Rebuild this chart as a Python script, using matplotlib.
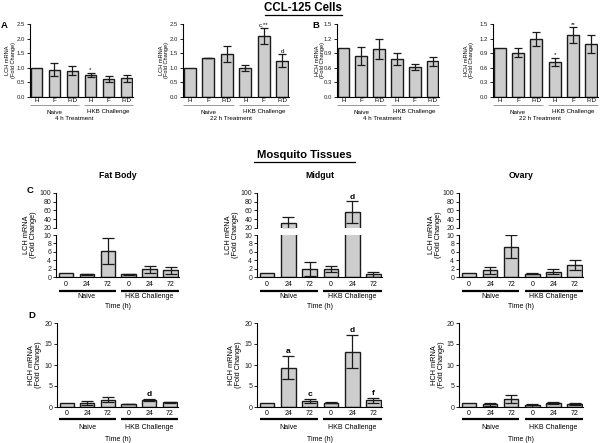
import matplotlib
matplotlib.use('Agg')
import matplotlib.pyplot as plt
from matplotlib.lines import Line2D
from matplotlib.transforms import blended_transform_factory

plt.rcParams['font.family'] = ['Liberation Sans', 'DejaVu Sans']

# ---------------- data ----------------
cell_categories = ['H', 'F', 'F/D', 'H', 'F', 'F/D']
tissue_categories = ['0', '24', '72', '0', '24', '72']
groups = ['Naive', 'HKB Challenge']

lch_4h = [1.0, 0.94, 0.90, 0.76, 0.62, 0.64]
lch_4h_err = [0, 0.23, 0.16, 0.07, 0.10, 0.11]
lch_4h_sig = ['', '', '', '*', '', '']

lch_22h = [1.0, 1.34, 1.47, 0.99, 2.08, 1.24]
lch_22h_err = [0, 0.01, 0.26, 0.11, 0.28, 0.22]
lch_22h_sig = ['', '', '', '', 'c,**', 'd']

hch_4h = [1.0, 0.84, 0.99, 0.78, 0.61, 0.73]
hch_4h_err = [0, 0.18, 0.20, 0.12, 0.06, 0.09]
hch_4h_sig = ['', '', '', '', '', '']

hch_22h = [1.0, 0.91, 1.19, 0.72, 1.27, 1.09]
hch_22h_err = [0, 0.09, 0.15, 0.09, 0.16, 0.19]
hch_22h_sig = ['', '', '', '*', '**', '']

fat_lch = [1.0, 0.6, 6.2, 0.6, 1.8, 1.6]
fat_lch_err = [0, 0.15, 3.2, 0.1, 0.9, 0.85]
fat_lch_sig = ['', '', '', '', '', '']

mid_lch = [1.0, 31, 1.9, 2.0, 56, 0.7]
mid_lch_err = [0, 13, 1.6, 0.7, 25, 0.6]
mid_lch_sig = ['', '', '', '', 'd', '']

ova_lch = [1.0, 1.6, 7.2, 0.8, 1.3, 2.8]
ova_lch_err = [0, 0.8, 2.75, 0.2, 0.5, 1.25]
ova_lch_sig = ['', '', '', '', '', '']

fat_hch = [1.0, 0.95, 1.75, 0.7, 1.65, 1.15]
fat_hch_err = [0, 0.55, 0.55, 0.1, 0.3, 0.15]
fat_hch_sig = ['', '', '', '', 'd', '']

mid_hch = [1.0, 9.4, 1.5, 1.0, 13.2, 1.6]
mid_hch_err = [0, 2.8, 0.45, 0.15, 4.0, 0.6]
mid_hch_sig = ['', 'a', 'c', '', 'd', 'f']

ova_hch = [1.0, 0.6, 1.9, 0.4, 0.95, 0.8]
ova_hch_err = [0, 0.4, 0.85, 0.3, 0.35, 0.25]
ova_hch_sig = ['', '', '', '', '', '']

# ---------------- layout helpers ----------------
W, H = 601, 443
fig = plt.figure(figsize=(6.01, 4.43), dpi=100)


def fx(px):
    return px / W


def fy(py):
    return 1 - py / H


BAR_FC = '#cdcdcd'
EDGE = '#1a1a1a'


def style_axis(ax, fs, bottom=True):
    for s in ['top', 'right']:
        ax.spines[s].set_visible(False)
    ax.spines['left'].set_linewidth(0.8)
    ax.spines['bottom'].set_linewidth(0.8)
    if not bottom:
        ax.spines['bottom'].set_visible(False)
    ax.tick_params(axis='y', direction='out', length=2, width=0.7,
                   labelsize=fs, pad=1.5, colors='#222222')
    ax.tick_params(axis='x', length=0, labelbottom=False)


def draw_bars(ax, vals, errs, width, capsize, sig=None, sigfs=5, sigbold=False):
    x = list(range(len(vals)))
    ax.bar(x, vals, width=width, color=BAR_FC, edgecolor=EDGE, linewidth=1.0, zorder=2)
    ex = [i for i in x if errs[i] > 0]
    ax.errorbar(ex, [vals[i] for i in ex], yerr=[errs[i] for i in ex], fmt='none',
                ecolor=EDGE, elinewidth=0.9, capsize=capsize, capthick=0.9, zorder=3)
    if sig is not None:
        for i, s in enumerate(sig):
            if s:
                ax.annotate(s, (i, vals[i] + errs[i]), xytext=(0, 0.5),
                            textcoords='offset points', ha='center', va='bottom',
                            fontsize=sigfs, fontweight='bold' if sigbold else 'normal',
                            annotation_clip=False, zorder=4)


def xdecor(ax, cats, y_tick, y_line, y_group, fs, lw, lcolor, y_extra=None, extra=None,
           extra_x=2.5, gfs=None):
    trans = blended_transform_factory(ax.transData, fig.transFigure)
    for i, c in enumerate(cats):
        ax.text(i, fy(y_tick), c, transform=trans, ha='center', va='center', fontsize=fs)
    for g, name in enumerate(groups):
        x0, x1 = g * 3 - 0.35, g * 3 + 2.38
        ax.add_line(Line2D([x0, x1], [fy(y_line)] * 2, transform=trans, clip_on=False,
                           lw=lw, color=lcolor, solid_capstyle='butt'))
        ax.text(g * 3 + 1, fy(y_group), name, transform=trans, ha='center', va='center',
                fontsize=gfs or fs)
    if extra:
        ax.text(extra_x, fy(y_extra), extra, transform=trans, ha='center', va='center',
                fontsize=gfs or fs)


def ylabel(x_px, y_px, text, fs):
    fig.text(fx(x_px), fy(y_px), text, rotation=90, ha='center', va='center',
             fontsize=fs, multialignment='center', linespacing=1.05)


# ---------------- top row: CCL-125 cells ----------------
top_panels = [
    (30, 133, lch_4h, lch_4h_err, lch_4h_sig, 2.5, [0, 0.5, 1.0, 1.5, 2.0, 2.5], 'LCH mRNA', 10.5, '4 h Treatment', 2.1),
    (183, 289, lch_22h, lch_22h_err, lch_22h_sig, 2.5, [0, 0.5, 1.0, 1.5, 2.0, 2.5], 'LCH mRNA', 164, '22 h Treatment', 2.25),
    (337, 439, hch_4h, hch_4h_err, hch_4h_sig, 1.5, [0, 0.3, 0.6, 0.9, 1.2, 1.5], 'HCH mRNA', 320, '4 h Treatment', 2.2),
    (493, 598, hch_22h, hch_22h_err, hch_22h_sig, 1.5, [0, 0.3, 0.6, 0.9, 1.2, 1.5], 'HCH mRNA', 469, '22 h Treatment', 2.2),
]
y_top_t, y_bot_t = 24, 97
for (l, r, vals, errs, sig, ymax, ticks, lab, labx, treat, tx) in top_panels:
    ax = fig.add_axes([fx(l), fy(y_bot_t), (r - l) / W, (y_bot_t - y_top_t) / H])
    draw_bars(ax, vals, errs, 0.66, 3.2, sig, sigfs=4.5)
    ax.set_xlim(-0.36, 5.36)
    ax.set_ylim(0, ymax)
    ax.set_yticks(ticks)
    ax.set_yticklabels([f'{t:.1f}' for t in ticks])
    style_axis(ax, 4.3)
    xdecor(ax, cell_categories, 101, 105.3, 112, 4.5, 0.6, '#888888',
           y_extra=118, extra=treat, extra_x=tx)
    ylabel(labx, (y_top_t + y_bot_t) / 2, lab + '\n(Fold Change)', 4.1)

fig.text(fx(303), fy(8), 'CCL-125 Cells', ha='center', va='center', fontsize=8.3,
         fontweight='bold')
fig.add_artist(Line2D([fx(265), fx(342)], [fy(14.5)] * 2, lw=0.9, color='black'))
fig.text(fx(4), fy(25), 'A', ha='center', va='center', fontsize=6.8, fontweight='bold')
fig.text(fx(316), fy(25), 'B', ha='center', va='center', fontsize=6.8, fontweight='bold')

# ---------------- middle row: LCH in mosquito tissues (broken axis) ----------------
fig.text(fx(304), fy(155), 'Mosquito Tissues', ha='center', va='center', fontsize=8.1,
         fontweight='bold')
fig.add_artist(Line2D([fx(254), fx(355)], [fy(161.5)] * 2, lw=0.9, color='black'))

mid_panels = [
    (56, 179, fat_lch, fat_lch_err, fat_lch_sig, 'Fat Body', 30),
    (257, 382, mid_lch, mid_lch_err, mid_lch_sig, 'Midgut', 232),
    (459, 583, ova_lch, ova_lch_err, ova_lch_sig, 'Ovary', 435),
]
y100, y20, y10, y0 = 193, 228, 235, 277
for (l, r, vals, errs, sig, title, labx) in mid_panels:
    axl = fig.add_axes([fx(l), fy(y0), (r - l) / W, (y0 - y10) / H])
    axu = fig.add_axes([fx(l), fy(y20), (r - l) / W, (y20 - y100) / H])
    draw_bars(axl, vals, errs, 0.69, 4.6)
    draw_bars(axu, vals, errs, 0.69, 4.6, sig, sigfs=6, sigbold=True)
    for a in (axl, axu):
        a.set_xlim(-0.47, 5.4)
    axl.set_ylim(0, 10)
    axl.set_yticks([0, 2, 4, 6, 8, 10])
    axu.set_ylim(20, 100)
    axu.set_yticks([20, 40, 60, 80, 100])
    style_axis(axl, 5)
    style_axis(axu, 5, bottom=False)
    xdecor(axl, tissue_categories, 285, 290.5, 296.5, 5, 1.6, 'black',
           y_extra=307, extra='Time (h)', extra_x=2.47)
    ylabel(labx, (y100 + y0) / 2, 'LCH mRNA\n(Fold Change)', 5.3)
    fig.text(fx((l + r) / 2), fy(176), title, ha='center', va='center', fontsize=6.3,
             fontweight='bold')

fig.text(fx(30), fy(190), 'C', ha='center', va='center', fontsize=6.8, fontweight='bold')

# ---------------- bottom row: HCH in mosquito tissues ----------------
bot_panels = [
    (57, 178, fat_hch, fat_hch_err, fat_hch_sig, 35),
    (257, 382, mid_hch, mid_hch_err, mid_hch_sig, 235),
    (459, 583, ova_hch, ova_hch_err, ova_hch_sig, 438),
]
yb20, yb0 = 323, 407
for (l, r, vals, errs, sig, labx) in bot_panels:
    ax = fig.add_axes([fx(l), fy(yb0), (r - l) / W, (yb0 - yb20) / H])
    draw_bars(ax, vals, errs, 0.69, 4.6, sig, sigfs=6, sigbold=True)
    ax.set_xlim(-0.47, 5.4)
    ax.set_ylim(0, 20)
    ax.set_yticks([0, 5, 10, 15, 20])
    style_axis(ax, 5)
    xdecor(ax, tissue_categories, 413.5, 419, 427.5, 5, 1.6, 'black',
           y_extra=439.5, extra='Time (h)', extra_x=2.47)
    ylabel(labx, (yb20 + yb0) / 2, 'HCH mRNA\n(Fold Change)', 5.3)

fig.text(fx(32), fy(315), 'D', ha='center', va='center', fontsize=6.8, fontweight='bold')

fig.savefig('out.png', dpi=100)
